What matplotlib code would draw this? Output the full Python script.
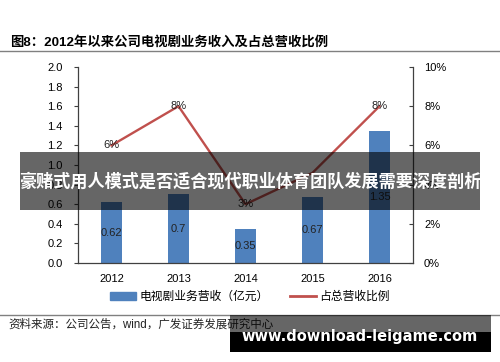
import matplotlib.pyplot as plt
from matplotlib.patches import Rectangle, Patch
from matplotlib.lines import Line2D

# --- данные ---
YEARS = ["2012", "2013", "2014", "2015", "2016"]
REVENUE = [0.62, 0.70, 0.35, 0.67, 1.35]          # 亿元
REVENUE_LABELS = ["0.62", "0.7", "0.35", "0.67", "1.35"]
SHARE = [0.06, 0.08, 0.03, 0.046, 0.08]           # доля в общей выручке
SHARE_LABELS = ["6%", "8%", "3%", "", "8%"]       # метка 2015 скрыта баннером
LEFT_TICKS = [0.0, 0.2, 0.4, 0.6, 0.8, 1.0, 1.2, 1.4, 1.6, 1.8, 2.0]
RIGHT_TICKS = [0.0, 0.02, 0.04, 0.06, 0.08, 0.10]
# ---------------

BLUE = "#4f81bd"
RED = "#c0504d"

plt.rcParams["font.family"] = ["Liberation Sans", "Noto Sans CJK SC", "DejaVu Sans"]

fig = plt.figure(figsize=(5, 3.62), dpi=100)
ax = fig.add_axes([0.156, 0.2735, 0.67, 0.5414])
x = list(range(len(YEARS)))

ax.bar(x, REVENUE, width=0.31, color=BLUE, zorder=2)
for xi, v, s in zip(x, REVENUE, REVENUE_LABELS):
    ax.text(xi, v / 2, s, ha="center", va="center", fontsize=8, color="#222222", zorder=3)

ax.set_xlim(-0.5, len(YEARS) - 0.5)
ax.set_ylim(0, 2.0)
ax.set_yticks(LEFT_TICKS)
ax.set_yticklabels([f"{t:.1f}" for t in LEFT_TICKS], fontsize=8)
ax.set_xticks(x)
ax.set_xticklabels(YEARS, fontsize=8)
ax.tick_params(axis="x", direction="in", length=2, pad=8, color="#404040")
ax.tick_params(axis="y", direction="out", length=3, pad=8, color="#404040")
ax.spines["top"].set_visible(False)
ax.spines["right"].set_visible(False)
for s in ("left", "bottom"):
    ax.spines[s].set_color("#404040")
    ax.spines[s].set_linewidth(0.9)

ax2 = ax.twinx()
ax2.plot(x, SHARE, color=RED, lw=1.7, zorder=2)
for xi, v, s in zip(x, SHARE, SHARE_LABELS):
    if s:
        ax2.text(xi, v, s, ha="center", va="center", fontsize=8, color="#222222", zorder=3)
ax2.set_ylim(0, 0.10)
ax2.set_yticks(RIGHT_TICKS)
ax2.set_yticklabels([f"{t:.0%}" for t in RIGHT_TICKS], fontsize=8)
ax2.tick_params(axis="y", direction="in", length=3, pad=8, color="#404040")
for s in ("top", "left", "bottom"):
    ax2.spines[s].set_visible(False)
ax2.spines["right"].set_color("#404040")
ax2.spines["right"].set_linewidth(0.9)

# легенда
handles = [Patch(color=BLUE), Line2D([], [], color=RED, lw=2)]
fig.legend(handles, ["电视剧业务营收（亿元）", "占总营收比例"], loc="center",
           bbox_to_anchor=(0.5, 1 - 297 / 362), ncol=2, frameon=False,
           fontsize=8.5, handlelength=2.2, handleheight=0.6, columnspacing=1.8,
           handletextpad=0.3)

# заголовок и источник
fig.text(0.02, 1 - 42 / 362, "图8：2012年以来公司电视剧业务收入及占总营收比例",
         fontsize=9.6, fontweight="bold", va="center", ha="left")
fig.add_artist(Line2D([0, 1], [1 - 51 / 362] * 2, color="#808080", lw=1))
fig.add_artist(Line2D([0, 1], [1 - 315 / 362] * 2, color="#808080", lw=1))
fig.text(0.016, 1 - 325 / 362, "资料来源：公司公告，wind，广发证券发展研究中心",
         fontsize=8.3, va="center", ha="left", color="#222222")

# баннер поверх графика
fig.add_artist(Rectangle((0.04, 1 - 210 / 362), 0.92, 58 / 362,
                         transform=fig.transFigure, color="black", alpha=0.6,
                         lw=0, zorder=10))
fig.text(0.5, 1 - 181 / 362, "豪赌式用人模式是否适合现代职业体育团队发展需要深度剖析",
         fontsize=12.3, fontweight="bold", color="white", ha="center", va="center",
         zorder=11)

# водяной знак
fig.add_artist(Rectangle((0.46, 1 - 332 / 362), 0.522, 17 / 362,
                         transform=fig.transFigure, color="black", alpha=0.6,
                         lw=0, zorder=10))
fig.add_artist(Rectangle((0.46, 1 - 352 / 362), 0.522, 20 / 362,
                         transform=fig.transFigure, color="black", lw=0, zorder=10))
fig.text(0.719, 1 - 337 / 362, "www.download-leigame.com", fontsize=10.5,
         fontweight="bold", color="white", ha="center", va="center",
         family=["DejaVu Sans"], zorder=11)

fig.savefig("out.png", dpi=100)
